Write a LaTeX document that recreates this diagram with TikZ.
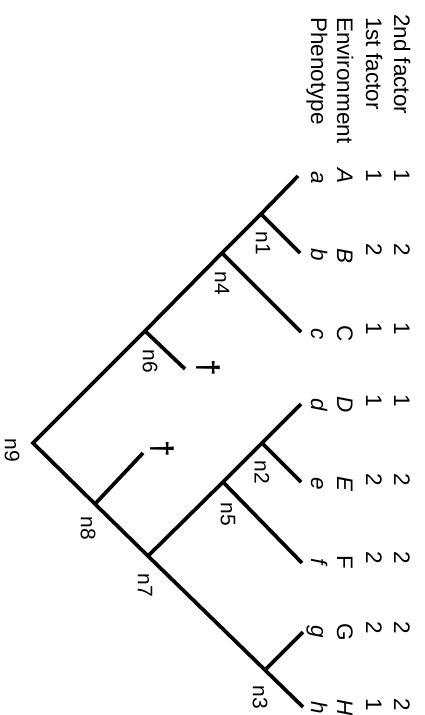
\documentclass[tikz,border=0pt]{standalone}
\usepackage{fontspec}
\setmainfont{Liberation Sans}
\begin{document}
\begin{tikzpicture}[x=1pt,y=-1pt,
  br/.style={line width=3.7pt, line join=miter},
  txt/.style={rotate=-90, inner sep=0pt, font=\fontsize{22.5}{24}\selectfont},
  rowlab/.style={txt, anchor=base west},
  val/.style={txt, anchor=base},
  nlab/.style={rotate=-90, inner sep=0pt, font=\fontsize{21}{22}\selectfont, anchor=center},
  dag/.style={rotate=-90, inner sep=0pt, font=\fontsize{30}{30}\selectfont\bfseries, anchor=center}]
\useasboundingbox (0,0) rectangle (424,715);
% tree vertices
\coordinate (n9) at (33,443);
\coordinate (a) at (298,176);
\coordinate (n1) at (261,214);
\coordinate (n4) at (222,253);
\coordinate (n6) at (145,331);
\coordinate (b) at (300,253);
\coordinate (c) at (301,332);
\coordinate (x6) at (185,369);
\coordinate (h) at (303,707);
\coordinate (n8) at (95,504);
\coordinate (n7) at (148,556);
\coordinate (n3) at (265,670);
\coordinate (x8) at (143,453);
\coordinate (d) at (301,404);
\coordinate (n2) at (262,443);
\coordinate (n5) at (223,482);
\coordinate (e) at (301,482);
\coordinate (f) at (302,563);
\coordinate (g) at (303,632);
% branches
\draw[br] (a) -- (n1) -- (n4) -- (n6) -- (n9) -- (n8) -- (n7) -- (n3) -- (h);
\draw[br] (n1) -- (b);
\draw[br] (n4) -- (c);
\draw[br] (n6) -- (x6);
\draw[br] (n8) -- (x8);
\draw[br] (n7) -- (n5) -- (n2) -- (d);
\draw[br] (n2) -- (e);
\draw[br] (n5) -- (f);
\draw[br] (n3) -- (g);
% daggers
\node[dag] (d6) at (208,368) {†};
\node[dag] (d8) at (162,449) {†};
% node labels
\node[nlab] (l1) at (263,243) {n1};
\node[nlab] (l4) at (222,283) {n4};
\node[nlab] (l6) at (150,361) {n6};
\node[nlab] (l9) at (12,450) {n9};
\node[nlab] (l8) at (88,528) {n8};
\node[nlab] (l7) at (145,585) {n7};
\node[nlab] (l5) at (228,514) {n5};
\node[nlab] (l2) at (262,472) {n2};
\node[nlab] (l3) at (260,697) {n3};
% row labels
\node[rowlab] (r1) at (394,14) {2nd factor};
\node[rowlab] (r2) at (366,17) {1st factor};
\node[rowlab] (r3) at (337,17) {Environment};
\node[rowlab] (r4) at (311,17) {Phenotype};
% row 2nd factor
\node[val] (s1) at (394,176) {1};
\node[val] (s2) at (394,250) {2};
\node[val] (s3) at (394,329) {1};
\node[val] (s4) at (394,401) {1};
\node[val] (s5) at (394,480) {2};
\node[val] (s6) at (394,558) {2};
\node[val] (s7) at (394,628) {2};
\node[val] (s8) at (394,705) {2};
% row 1st factor
\node[val] (f1) at (366,176) {1};
\node[val] (f2) at (366,250) {2};
\node[val] (f3) at (366,329) {1};
\node[val] (f4) at (366,401) {1};
\node[val] (f5) at (366,480) {2};
\node[val] (f6) at (366,558) {2};
\node[val] (f7) at (366,628) {2};
\node[val] (f8) at (366,705) {1};
% row environment
\node[val] (e1) at (337,176) {\itshape A};
\node[val] (e2) at (337,256) {\itshape B};
\node[val] (e3) at (337,334) {C};
\node[val] (e4) at (337,405) {\itshape D};
\node[val] (e5) at (337,484) {\itshape E};
\node[val] (e6) at (337,562) {F};
\node[val] (e7) at (337,632) {G};
\node[val] (e8) at (337,708) {\itshape H};
% row phenotype
\node[val] (p1) at (311,178) {\itshape a};
\node[val] (p2) at (311,255) {\itshape b};
\node[val] (p3) at (311,334) {\itshape c};
\node[val] (p4) at (311,405) {\itshape d};
\node[val] (p5) at (311,484) {\itshape e};
\node[val] (p6) at (311,562) {\itshape f};
\node[val] (p7) at (311,632) {\itshape g};
\node[val] (p8) at (311,708) {\itshape h};
\end{tikzpicture}
\end{document}
